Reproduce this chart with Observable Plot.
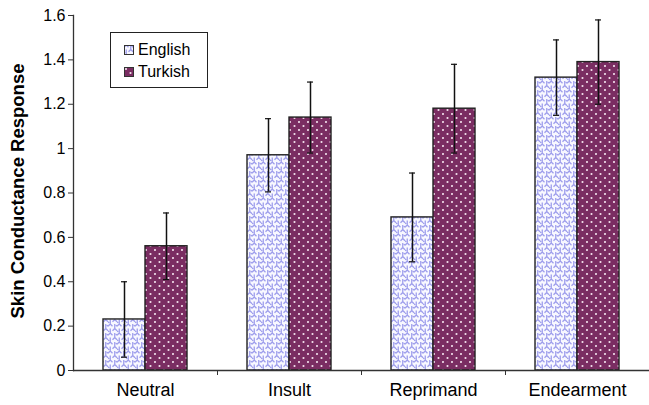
<!DOCTYPE html>
<html>
<head>
<meta charset="utf-8">
<script src="https://cdn.jsdelivr.net/npm/d3@7"></script>
<script src="https://cdn.jsdelivr.net/npm/@observablehq/plot@0.6"></script>
<style>
  body { margin: 0; background: #fff; }
  #chart { position: relative; width: 649px; height: 405px; font-family: "Liberation Sans", Arial, sans-serif; }
  .legend { position: absolute; left: 110px; top: 32px; width: 96px; height: 54px; border: 1.5px solid #222; background: #fff; font-size: 16px; }
  .legend .row { position: absolute; left: 13px; display: flex; align-items: center; gap: 4px; }
  .legend svg { display: block; }
</style>
</head>
<body>
<svg width="0" height="0" style="position:absolute">
  <defs>
    <pattern id="weave" width="9" height="9" patternUnits="userSpaceOnUse">
      <rect width="9" height="9" fill="#f8f8ff"></rect>
      <path d="M0,2.25 L2.25,0 L4.5,2.25 M4.5,6.75 L6.75,4.5 L9,6.75 M2.25,4.5 L2.25,9 M6.75,0 L6.75,4.5 M0,6.75 L1.1,7.9 M7.9,1.1 L9,2.25" fill="none" stroke="#9e9eec" stroke-width="1.3"></path>
    </pattern>
    <pattern id="dots" width="9" height="8" patternUnits="userSpaceOnUse">
      <rect width="9" height="8" fill="#7a2d62"></rect>
      <circle cx="2" cy="2" r="1.05" fill="#f6e6f1"></circle>
      <circle cx="6.5" cy="6" r="1.05" fill="#f6e6f1"></circle>
    </pattern>
  </defs>
</svg>
<div id="chart">
  <div class="legend">
    <div class="row" style="top:8px"><svg width="10" height="10"><rect x="0.5" y="0.5" width="9" height="9" fill="url(#weave)" stroke="#333"></rect></svg><span>English</span></div>
    <div class="row" style="top:30px"><svg width="10" height="10"><rect x="0.5" y="0.5" width="9" height="9" fill="url(#dots)" stroke="#333"></rect></svg><span>Turkish</span></div>
  </div>
</div>
<script>
// Mean skin conductance response per word category, with error bars
const categories = ["Neutral", "Insult", "Reprimand", "Endearment"];
const groups = ["English", "Turkish"];
const englishMeans = [0.23, 0.97, 0.69, 1.32];
const englishErrors = [0.17, 0.165, 0.2, 0.17];
const turkishMeans = [0.56, 1.14, 1.18, 1.39];
const turkishErrors = [0.15, 0.16, 0.2, 0.19];
const yTicks = [0, 0.2, 0.4, 0.6, 0.8, 1, 1.2, 1.4, 1.6];
const yTickLabels = ["0", "0.2", "0.4", "0.6", "0.8", "1", "1.2", "1.4", "1.6"];
const yLabel = "Skin Conductance Response";

const rows = categories.flatMap((c, i) => [
  {category: c, group: "English", value: englishMeans[i], error: englishErrors[i]},
  {category: c, group: "Turkish", value: turkishMeans[i], error: turkishErrors[i]}
]);

const width = 649, marginLeft = 73, marginRight = 0;
const halfStep = (width - marginLeft - marginRight) / categories.length / 2;

const chart = Plot.plot({
  width, height: 405,
  marginLeft, marginRight, marginTop: 15, marginBottom: 35,
  style: {fontFamily: "'Liberation Sans', Arial, sans-serif", color: "#000", background: "transparent", overflow: "visible"},
  fx: {domain: categories, padding: 0, axis: null},
  x: {domain: groups, paddingInner: 0, paddingOuter: 0.7, axis: null},
  y: {domain: [0, 1.6], axis: null},
  marks: [
    Plot.barY(rows.filter(d => d.group === "English"), {fx: "category", x: "group", y: "value", fill: "url(#weave)", stroke: "#222", strokeWidth: 1.4}),
    Plot.barY(rows.filter(d => d.group === "Turkish"), {fx: "category", x: "group", y: "value", fill: "url(#dots)", stroke: "#222", strokeWidth: 1.4}),
    Plot.ruleX(rows, {fx: "category", x: "group", y1: d => d.value - d.error, y2: d => d.value + d.error, stroke: "#111", strokeWidth: 1.5}),
    Plot.tickY(rows, {fx: "category", x: "group", y: d => d.value - d.error, stroke: "#111", strokeWidth: 1.2, insetLeft: 18, insetRight: 18}),
    Plot.tickY(rows, {fx: "category", x: "group", y: d => d.value + d.error, stroke: "#111", strokeWidth: 1.2, insetLeft: 18, insetRight: 18}),
    Plot.ruleY([0], {stroke: "#333", strokeWidth: 1.3}),
    Plot.frame({anchor: "left", facetAnchor: "left", stroke: "#333", strokeWidth: 1.3}),
    Plot.axisY({ticks: yTicks, tickFormat: d => yTickLabels[yTicks.indexOf(d)], tickSize: 5, tickPadding: 3, fontSize: 16, label: null, stroke: "#333"}),
    Plot.axisFx({anchor: "bottom", tickSize: 0, tickPadding: 13, fontSize: 18, label: null}),
    Plot.axisFx({anchor: "bottom", tickSize: 5, tickFormat: () => "", dx: halfStep, label: null, stroke: "#333"}),
    Plot.text([categories[0]], {fx: d => d, frameAnchor: "left", text: () => yLabel, rotate: -90, textAnchor: "middle", dx: -55, dy: -2, fontSize: 18.5, fontWeight: "bold"})
  ]
});

document.getElementById("chart").prepend(chart);
</script>
</body>
</html>
